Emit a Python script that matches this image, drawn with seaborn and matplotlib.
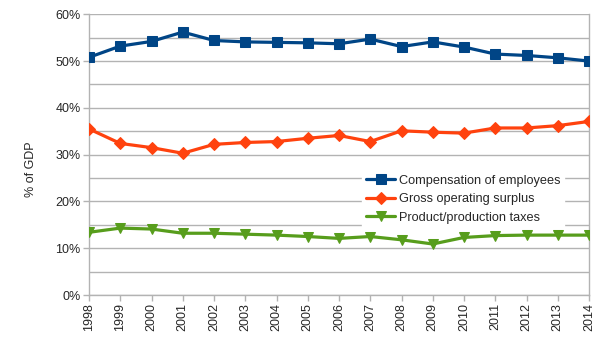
import matplotlib
matplotlib.use("Agg")
import matplotlib.pyplot as plt
import seaborn as sns
import pandas as pd
from matplotlib.ticker import MultipleLocator, FuncFormatter

years = list(range(1998, 2015))
compensation = [50.8, 53.2, 54.2, 56.2, 54.4, 54.1, 54.0, 53.9, 53.7, 54.7, 53.1, 54.1, 53.0, 51.5, 51.2, 50.7, 50.0]
gross_surplus = [35.5, 32.4, 31.5, 30.3, 32.2, 32.6, 32.8, 33.5, 34.1, 32.8, 35.1, 34.8, 34.6, 35.7, 35.7, 36.2, 37.1]
taxes = [13.4, 14.3, 14.1, 13.2, 13.2, 13.0, 12.8, 12.5, 12.1, 12.5, 11.8, 10.9, 12.3, 12.7, 12.8, 12.8, 12.8]

series_names = ["Compensation of employees", "Gross operating surplus", "Product/production taxes"]
series_values = [compensation, gross_surplus, taxes]
colors = ["#004586", "#ff420e", "#579d1c"]
markers = ["s", "D", "v"]
msizes = [7.8, 6.5, 7.5]

sns.set_style("white")
plt.rcParams["font.family"] = ["Liberation Sans", "DejaVu Sans"]

fig = plt.figure(figsize=(6.05, 3.4), dpi=100)
ax = fig.add_axes([89 / 605, 1 - 295 / 340, 500 / 605, (295 - 14.3) / 340])

grid_c = "#b3b3b3"
for name, vals, c, m, ms in zip(series_names, series_values, colors, markers, msizes):
    df = pd.DataFrame({"year": years, "value": vals})
    sns.lineplot(data=df, x="year", y="value", ax=ax, color=c, marker=m,
                 markersize=ms, markeredgecolor=c, linewidth=2.3, label=name, zorder=3)

ax.set_xlim(1998, 2014)
ax.set_ylim(0, 60)
ax.set_xticks(years)
ax.set_xticklabels([str(y) for y in years], rotation=90, fontsize=9)
ax.yaxis.set_major_locator(MultipleLocator(10))
ax.yaxis.set_minor_locator(MultipleLocator(5))
ax.yaxis.set_major_formatter(FuncFormatter(lambda v, p: f"{int(v)}%"))
ax.tick_params(axis="y", which="major", labelsize=9, length=4, width=1, color=grid_c, direction="out", left=True, pad=2)
ax.tick_params(axis="y", which="minor", length=0)
ax.tick_params(axis="x", length=4, width=1, color=grid_c, direction="out", bottom=True, pad=2)
ax.grid(axis="y", which="both", color=grid_c, linewidth=1)
ax.grid(axis="x", visible=False)
ax.set_axisbelow(True)
for side in ["left", "right", "bottom"]:
    ax.spines[side].set_visible(True)
    ax.spines[side].set_color(grid_c)
    ax.spines[side].set_linewidth(1)
ax.spines["top"].set_visible(False)

ax.set_xlabel("")
ax.set_ylabel("% of GDP", fontsize=9)
ax.yaxis.set_label_coords(-0.104, 0.449)

leg = ax.legend(loc="upper left", bbox_to_anchor=(362 / 605, 1 - 171 / 340),
                bbox_transform=fig.transFigure, frameon=True, fontsize=9.2,
                handlelength=2.3, handletextpad=0.3, labelspacing=0.5,
                borderpad=0.3, borderaxespad=0)
leg.get_frame().set_facecolor("white")
leg.get_frame().set_edgecolor("white")
leg.get_frame().set_alpha(1)
leg.get_frame().set_boxstyle("square", pad=0)

fig.savefig("out.png", dpi=100, facecolor="white")
